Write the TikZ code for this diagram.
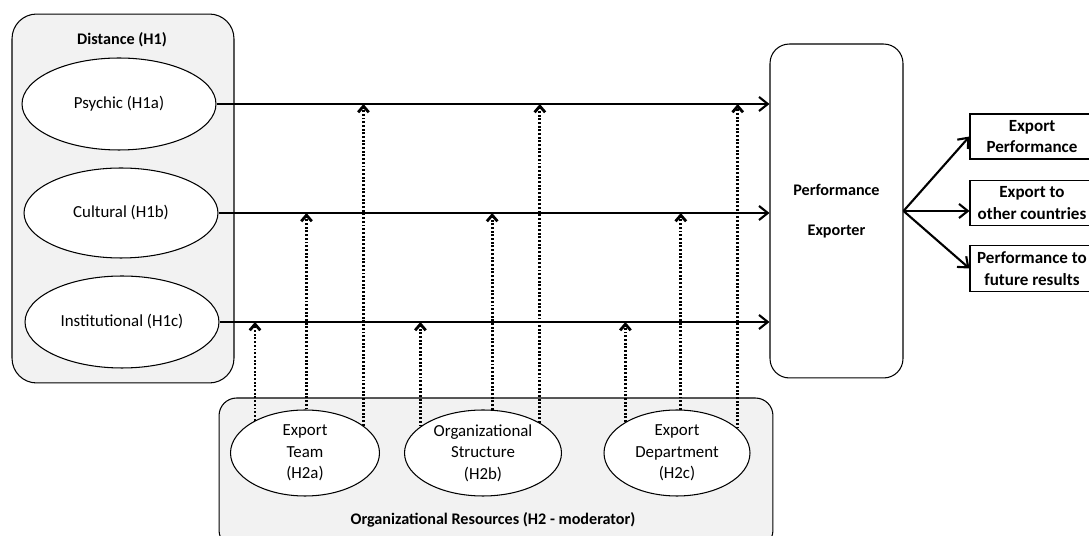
\documentclass[tikz,border=0pt]{standalone}
\usepackage{fontspec}
\setmainfont{Carlito}
\usetikzlibrary{arrows.meta,shapes.geometric}
\definecolor{panelgray}{RGB}{242,242,242}

\begin{document}
\begin{tikzpicture}[x=0.02cm, y=-0.02cm,
    font=\fontsize{9.6}{12.3}\selectfont,
    panel/.style={draw, fill=panelgray, line width=0.6pt},
    factor/.style={draw, ellipse, fill=white, inner sep=0pt, align=center, line width=0.6pt},
    outbox/.style={draw, fill=white, minimum width=2.48cm, minimum height=0.9cm, align=center, font=\fontsize{9.7}{12.3}\selectfont\bfseries, line width=0.6pt},
    effect/.style={line width=1.2pt, -{Straight Barb[length=5pt,width=8pt]}},
    moderation/.style={line width=1.6pt, dash pattern=on 1.1pt off 1pt, -{Straight Barb[length=3.5pt,width=6pt]}}]
    \useasboundingbox (0,0) rectangle (1089,536);

    % containers
    \node[panel, rounded corners=14pt, minimum width=4.44cm, minimum height=7.38cm] at (123, 198.5) (dist) {};
    \node[panel, rounded corners=10pt, minimum width=11.08cm, minimum height=3cm] at (496, 473) (res) {};
    \node[font=\fontsize{9.2}{10}\selectfont\bfseries] at (122, 40) (distlabel) {Distance (H1)};
    \node[font=\fontsize{9.2}{10}\selectfont\bfseries] at (493, 520) (reslabel) {Organizational Resources (H2 - moderator)};

    % distance factors
    \node[factor, minimum width=3.88cm, minimum height=1.84cm] at (119, 104) (psy) {Psychic (H1a)};
    \node[factor, minimum width=3.88cm, minimum height=1.8cm] at (121, 213) (cult) {Cultural (H1b)};
    \node[factor, minimum width=3.88cm, minimum height=1.84cm] at (122, 322) (inst) {Institutional (H1c)};

    % resources
    \node[factor, minimum width=2.98cm, minimum height=1.72cm] at (305, 453) (team) {Export\\Team\\(H2a)};
    \node[factor, minimum width=3.14cm, minimum height=1.72cm] at (483, 453) (struct) {Organizational\\Structure\\(H2b)};
    \node[factor, minimum width=2.92cm, minimum height=1.72cm] at (677, 453) (dept) {Export\\Department\\(H2c)};

    % outcome
    \node[draw, fill=white, rounded corners=11pt, line width=0.6pt, minimum width=2.66cm, minimum height=6.68cm, align=center, font=\fontsize{9.2}{10}\selectfont\bfseries] at (836.5, 211) (perf) {Performance\\[13pt]Exporter};
    \node[outbox] at (1032, 136.5) (out1) {Export\\Performance};
    \node[outbox] at (1032, 203) (out2) {Export to\\other countries};
    \node[outbox] at (1032, 268.5) (out3) {Performance to\\future results};

    % direct effects
    \draw[effect] (psy.east) -- (psy.east -| perf.west);
    \draw[effect] (cult.east) -- (cult.east -| perf.west);
    \draw[effect] (inst.east) -- (inst.east -| perf.west);
    \draw[effect] (perf.east) -- (out1.west);
    \draw[effect] (perf.east) -- (out2.west |- perf.east);
    \draw[effect] (perf.east) -- (out3.west);

    % moderation
    \draw[moderation] (team.147) -- (team.147 |- inst.east);
    \draw[moderation] (team.88) -- (team.88 |- cult.east);
    \draw[moderation] (team.25) -- (team.25 |- psy.east);
    \draw[moderation] (struct.157) -- (struct.157 |- inst.east);
    \draw[moderation] (struct.78) -- (struct.78 |- cult.east);
    \draw[moderation] (struct.28) -- (struct.28 |- psy.east);
    \draw[moderation] (dept.149) -- (dept.149 |- inst.east);
    \draw[moderation] (dept.85) -- (dept.85 |- cult.east);
    \draw[moderation] (dept.22) -- (dept.22 |- psy.east);
\end{tikzpicture}
\end{document}
